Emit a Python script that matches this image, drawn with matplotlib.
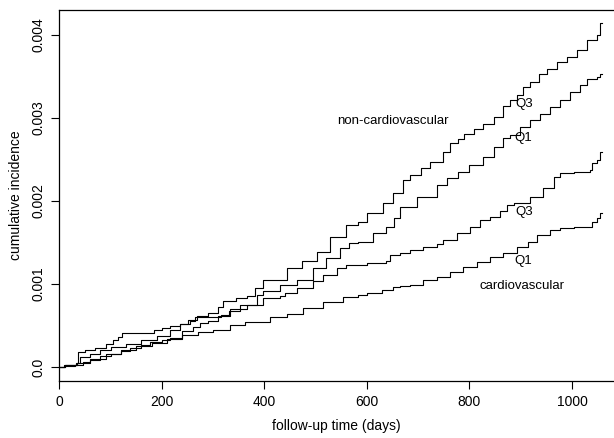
import numpy as np
import matplotlib
matplotlib.use("Agg")
import matplotlib.pyplot as plt

plt.rcParams["font.family"] = ["Liberation Sans", "DejaVu Sans"]

# ---------- Data (cumulative incidence, in units of 1e-3) ----------
nc_q3_t = [0, 8, 22, 35, 40, 60, 80, 100, 130, 160, 190, 215, 235, 251, 268, 290,
           309, 320, 345, 365, 381, 398, 417, 443, 473, 502, 528, 560, 583, 600,
           632, 651, 671, 684, 705, 723, 749, 762, 778, 790, 808, 827, 847, 866,
           879, 892, 905, 918, 935, 951, 970, 990, 1009, 1029, 1048, 1055, 1059]
nc_q3_v = [0, 0.02, 0.03, 0.05, 0.12, 0.16, 0.20, 0.24, 0.28, 0.32, 0.37, 0.45,
           0.52, 0.57, 0.62, 0.65, 0.72, 0.80, 0.83, 0.85, 0.95, 1.05, 1.05, 1.19,
           1.27, 1.39, 1.57, 1.71, 1.75, 1.85, 1.97, 2.09, 2.25, 2.31, 2.39, 2.47,
           2.59, 2.69, 2.74, 2.80, 2.87, 2.93, 3.01, 3.14, 3.21, 3.27, 3.37, 3.43,
           3.53, 3.58, 3.67, 3.73, 3.82, 3.94, 4.00, 4.14, 4.14]

nc_q1_t = [0, 10, 25, 35, 60, 90, 120, 150, 180, 210, 240, 260, 274, 290, 310,
           333, 365, 385, 398, 430, 463, 495, 521, 547, 564, 583, 612, 638, 653,
           664, 697, 736, 756, 778, 800, 827, 847, 866, 879, 899, 918, 938, 957,
           977, 996, 1016, 1029, 1048, 1055, 1059]
nc_q1_v = [0, 0.02, 0.03, 0.05, 0.10, 0.16, 0.21, 0.25, 0.29, 0.34, 0.43, 0.48,
           0.53, 0.56, 0.61, 0.695, 0.746, 0.866, 0.918, 0.987, 1.047, 1.188,
           1.308, 1.428, 1.496, 1.508, 1.61, 1.69, 1.79, 1.93, 2.05, 2.19, 2.27,
           2.35, 2.43, 2.53, 2.65, 2.75, 2.79, 2.89, 2.97, 3.05, 3.13, 3.21, 3.31,
           3.39, 3.47, 3.49, 3.53, 3.53]

cv_q3_t = [0, 10, 20, 33, 36, 50, 70, 90, 105, 115, 121, 180, 185, 200, 215, 235,
           255, 265, 307, 315, 330, 352, 392, 397, 430, 440, 463, 495, 515, 541,
           560, 583, 600, 638, 645, 665, 684, 710, 736, 749, 775, 801, 821, 840,
           860, 873, 886, 918, 944, 964, 977, 1003, 1035, 1039, 1048, 1055, 1059]
cv_q3_v = [0, 0.02, 0.03, 0.05, 0.18, 0.20, 0.23, 0.28, 0.33, 0.36, 0.41, 0.41,
           0.44, 0.47, 0.49, 0.52, 0.56, 0.60, 0.60, 0.63, 0.67, 0.75, 0.75, 0.83,
           0.85, 0.89, 0.95, 1.03, 1.11, 1.19, 1.23, 1.23, 1.25, 1.27, 1.35, 1.375,
           1.41, 1.448, 1.48, 1.528, 1.61, 1.69, 1.77, 1.81, 1.88, 1.95, 1.97,
           2.05, 2.15, 2.29, 2.33, 2.35, 2.37, 2.45, 2.49, 2.59, 2.59]

cv_q1_t = [0, 10, 30, 45, 60, 80, 100, 120, 138, 160, 177, 200, 216, 240, 271,
           300, 333, 362, 391, 411, 443, 476, 515, 554, 583, 600, 630, 651, 665,
           684, 710, 736, 762, 788, 814, 840, 866, 892, 915, 931, 957, 977, 1003,
           1035, 1039, 1048, 1055, 1059]
cv_q1_v = [0, 0.01, 0.03, 0.06, 0.09, 0.13, 0.16, 0.19, 0.225, 0.27, 0.305, 0.33,
           0.345, 0.38, 0.425, 0.445, 0.505, 0.545, 0.545, 0.605, 0.638, 0.706,
           0.786, 0.846, 0.866, 0.887, 0.93, 0.966, 0.975, 0.987, 1.047, 1.087,
           1.147, 1.207, 1.267, 1.327, 1.375, 1.45, 1.51, 1.588, 1.649, 1.669,
           1.681, 1.688, 1.749, 1.79, 1.85, 1.85]

x_ticks = [0, 200, 400, 600, 800, 1000]
y_ticks = [0.0, 0.001, 0.002, 0.003, 0.004]
y_tick_labels = ["0.0", "0.001", "0.002", "0.003", "0.004"]


def main():
    fig = plt.figure(figsize=(6.14, 4.38), dpi=100)
    ax = fig.add_axes([0.0969, 0.1301, 0.9031, 0.8471])

    for t, v in [(nc_q3_t, nc_q3_v), (nc_q1_t, nc_q1_v),
                 (cv_q3_t, cv_q3_v), (cv_q1_t, cv_q1_v)]:
        ax.plot(t, np.array(v) * 1e-3, drawstyle="steps-post",
                color="black", lw=0.8)

    ax.set_xlim(0, 1082)
    ax.set_ylim(-0.000168, 0.004296)
    ax.set_xticks(x_ticks)
    ax.set_yticks(y_ticks)
    ax.set_yticklabels(y_tick_labels, rotation=90, va="center")
    ax.tick_params(direction="out", length=6, width=0.8, labelsize=10, pad=4)
    ax.spines["right"].set_visible(False)
    for s in ["left", "bottom", "top"]:
        ax.spines[s].set_linewidth(0.9)

    ax.set_xlabel("follow-up time (days)", fontsize=10, labelpad=7)
    ax.set_ylabel("cumulative incidence", fontsize=10, labelpad=6)

    # curve labels
    ax.text(651, 0.00296, "non-cardiovascular", fontsize=9.5, ha="center", va="center")
    ax.text(890, 0.00317, "Q3", fontsize=9.5, ha="left", va="center")
    ax.text(888, 0.00276, "Q1", fontsize=9.5, ha="left", va="center")
    ax.text(890, 0.00186, "Q3", fontsize=9.5, ha="left", va="center")
    ax.text(888, 0.00128, "Q1", fontsize=9.5, ha="left", va="center")
    ax.text(902, 0.00098, "cardiovascular", fontsize=9.5, ha="center", va="center")

    fig.savefig("out.png", dpi=100)
    plt.close(fig)


if __name__ == "__main__":
    main()
